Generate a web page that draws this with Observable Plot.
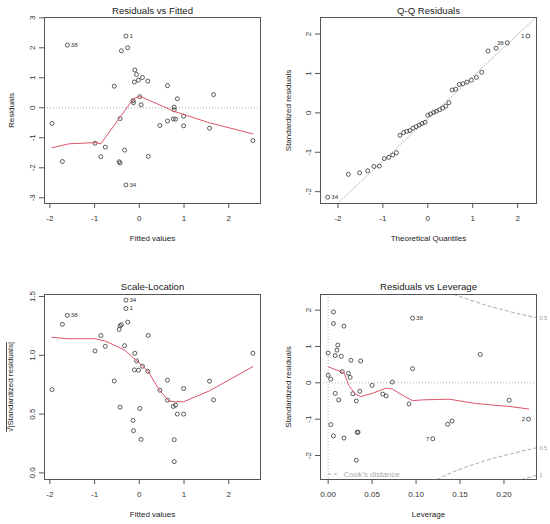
<!DOCTYPE html>
<html><head><meta charset="utf-8">
<script src="https://cdn.jsdelivr.net/npm/d3@7"></script>
<script src="https://cdn.jsdelivr.net/npm/@observablehq/plot@0.6"></script>
<style>
body{margin:0;background:#fff}
#grid{position:relative;width:550px;height:524px;background:#fff}
.cell{position:absolute}
</style>
</head><body><div id="grid"></div>
<script>
// ---------- data ----------
const fitted = [-1.95,-1.72,-1.61,-0.99,-0.86,-0.76,-0.56,-0.43,-0.45,-0.43,-0.40,-0.33,-0.30,-0.30,-0.26,-0.14,-0.13,-0.11,-0.10,-0.06,-0.02,0.01,0.04,0.07,0.19,0.20,0.46,0.63,0.63,0.76,0.78,0.78,0.81,0.85,0.99,0.99,1.57,1.66,2.54];
const residuals = [-0.52,-1.79,2.09,-1.18,-1.63,-1.31,0.72,-0.36,-1.80,-1.84,1.90,-1.41,2.39,-2.57,2.00,0.24,0.17,0.86,1.26,1.11,0.92,0.37,0.10,1.01,0.89,-1.62,-0.59,0.74,-0.44,-0.37,0.02,-0.07,-0.38,0.30,-0.28,-0.60,-0.68,0.44,-1.09];
const sqrtStdRes = [0.709,1.263,1.339,1.037,1.169,1.076,0.782,0.559,1.22,1.25,1.26,1.082,1.398,1.469,1.282,0.446,0.359,0.876,1.017,0.952,0.873,0.548,0.285,0.907,0.864,1.169,0.703,0.788,0.619,0.565,0.096,0.282,0.576,0.50,0.50,0.718,0.78,0.621,1.017];
const fitLabelIdx = [2, 12, 13];
const fitLabels = ["38", "1", "34"];

const rvfSmoothX = [-1.95,-1.57,-0.99,-0.86,-0.14,0.01,0.78,1.57,2.54];
const rvfSmoothY = [-1.33,-1.20,-1.16,-1.20,0.29,0.39,-0.12,-0.50,-0.87];

const slSmoothX = [-1.95,-1.61,-0.99,-0.76,-0.33,0.03,0.19,0.45,0.66,0.78,0.99,1.57,2.54];
const slSmoothY = [1.153,1.141,1.141,1.121,1.045,0.924,0.867,0.703,0.613,0.605,0.605,0.698,0.904];

const qqTheory = [-2.23,-1.77,-1.52,-1.34,-1.20,-1.08,-0.97,-0.87,-0.78,-0.70,-0.62,-0.54,-0.47,-0.40,-0.33,-0.26,-0.19,-0.13,-0.06,0,0.06,0.13,0.19,0.26,0.33,0.40,0.47,0.54,0.62,0.70,0.78,0.87,0.97,1.08,1.20,1.34,1.52,1.77,2.23];
const qqStd = [-2.14,-1.56,-1.52,-1.47,-1.36,-1.35,-1.16,-1.13,-1.07,-1.01,-0.57,-0.50,-0.47,-0.45,-0.39,-0.35,-0.31,-0.27,-0.24,-0.06,-0.03,0.01,0.04,0.08,0.12,0.17,0.26,0.58,0.60,0.72,0.74,0.78,0.83,0.90,1.03,1.57,1.64,1.78,1.95];
const qqLabelIdx = [0, 37, 38];
const qqLabels = ["34", "38", "1"];
const qqLineX = [-2.6, 2.6];
const qqLineY = [-2.93, 2.63];

const leverage = [0.000,0.000,0.003,0.003,0.006,0.006,0.006,0.008,0.008,0.010,0.011,0.012,0.015,0.016,0.018,0.018,0.023,0.025,0.026,0.028,0.032,0.032,0.033,0.034,0.036,0.037,0.050,0.062,0.066,0.073,0.092,0.096,0.096,0.119,0.136,0.141,0.173,0.206,0.228];
const levStdRes = [0.82,0.21,0.10,-1.15,1.95,1.63,-1.46,0.75,-0.29,0.90,1.04,-0.47,0.73,0.31,1.56,-1.52,0.26,0.15,0.62,-0.30,-0.50,-2.13,-1.36,-1.36,-0.23,0.60,-0.07,-0.31,-0.36,0.02,-0.58,0.39,1.78,-1.54,-1.14,-1.05,0.78,-0.48,-1.00];
const levLabelIdx = [32, 33, 38];
const levLabels = ["38", "7", "2"];
const levSmoothX = [0,0.0076,0.0179,0.0236,0.0312,0.0369,0.0502,0.0654,0.073,0.0844,0.0958,0.1072,0.1376,0.168,0.206,0.228];
const levSmoothY = [0.44,0.37,0.28,-0.08,-0.31,-0.38,-0.29,-0.15,-0.17,-0.34,-0.49,-0.47,-0.45,-0.57,-0.65,-0.72];
const cookHalfUpX = [0.143,0.16,0.18,0.20,0.22,0.237];
const cookHalfUpY = [2.43,2.29,2.13,2.00,1.88,1.79];
const cookHalfLoX = [0.124,0.14,0.16,0.18,0.20,0.22,0.237];
const cookHalfLoY = [-2.66,-2.47,-2.29,-2.13,-2.00,-1.88,-1.79];
const cookOneLoX = [0.22,0.23,0.237];
const cookOneLoY = [-2.66,-2.59,-2.54];

// ---------- style ----------
const FONT = "'Liberation Sans', Arial, sans-serif";
const INK = "#333";
const RED = "#DF536B";
const GREY = "#b0b0b0";
const fmtInt = d => String(d);

const zip = (xs, ys) => xs.map((x, i) => ({x, y: ys[i]}));

function panel(o) {
  const marks = [
    ...(o.under || []),
    Plot.dot(o.points, {x: "x", y: "y", r: 2, stroke: INK, strokeWidth: 0.8, fill: "none"}),
    ...(o.over || []),
    Plot.frame({stroke: "#555", strokeWidth: 1}),
    Plot.axisX({ticks: o.xt, tickFormat: o.xf, tickSize: 5, tickPadding: 7, label: null, fontSize: 8, stroke: "#555"}),
    Plot.axisY({ticks: o.yt, tickFormat: () => "", tickSize: 5, label: null, stroke: "#555"}),
    Plot.text(o.yt, {y: d => d, text: d => o.yf(d), frameAnchor: "left", rotate: -90, textAnchor: "middle", lineAnchor: "middle", dx: -12, fontSize: 8, fill: INK}),
    Plot.text([o.title], {text: d => d, frameAnchor: "top", lineAnchor: "middle", dy: o.titleDy, fontSize: 9.6, fill: "#222"}),
    Plot.text([o.xlabel], {text: d => d, frameAnchor: "bottom", lineAnchor: "middle", dy: 35, fontSize: 8, fill: "#222"}),
    Plot.text([o.ylabel], {text: d => d, frameAnchor: "left", lineAnchor: "middle", textAnchor: "middle", rotate: -90, dx: o.ylabDx, fontSize: 8, fill: "#222", className: "ylab"})
  ];
  return Plot.plot({
    width: 275, height: 262,
    marginLeft: o.ml, marginRight: o.mr, marginTop: o.mt, marginBottom: o.mb,
    style: {fontFamily: FONT, fontSize: "8px", color: INK, background: "white", overflow: "visible"},
    x: {domain: o.xd, label: null},
    y: {domain: o.yd, label: null},
    marks
  });
}

function place(svg, left, top) {
  const d = document.createElement("div");
  d.className = "cell";
  d.style.left = left + "px";
  d.style.top = top + "px";
  d.appendChild(svg);
  document.getElementById("grid").appendChild(d);
  return svg;
}

const dotted = {stroke: GREY, strokeDasharray: "1,2", strokeWidth: 1};
const labelText = (xs, ys, idx, labels, side) =>
  Plot.text(idx.map((i, k) => ({x: xs[i], y: ys[i], t: labels[k]})),
    {x: "x", y: "y", text: "t", fontSize: 6.2, fill: INK,
     textAnchor: side === "left" ? "end" : "start", dx: side === "left" ? -3.5 : 3.5});

// Panel 1: Residuals vs Fitted
place(panel({
  points: zip(fitted, residuals),
  ml: 44, mr: 15, mt: 17, mb: 59,
  xd: [-2.12, 2.71], yd: [-3.19, 3.01],
  xt: [-2, -1, 0, 1, 2], yt: [-3, -2, -1, 0, 1, 2, 3], xf: fmtInt, yf: fmtInt,
  title: "Residuals vs Fitted", titleDy: -7,
  xlabel: "Fitted values", ylabel: "Residuals", ylabDx: -33,
  under: [Plot.ruleY([0], dotted)],
  over: [
    Plot.line(zip(rvfSmoothX, rvfSmoothY), {x: "x", y: "y", stroke: RED, strokeWidth: 1}),
    labelText(fitted, residuals, fitLabelIdx, fitLabels, "right")
  ]
}), 0, 0);

// Panel 2: Q-Q Residuals
place(panel({
  points: zip(qqTheory, qqStd),
  ml: 45, mr: 14, mt: 17, mb: 59,
  xd: [-2.39, 2.42], yd: [-2.30, 2.42],
  xt: [-2, -1, 0, 1, 2], yt: [-2, -1, 0, 1, 2], xf: fmtInt, yf: fmtInt,
  title: "Q-Q Residuals", titleDy: -7,
  xlabel: "Theoretical Quantiles", ylabel: "Standardized residuals", ylabDx: -32,
  under: [Plot.line(zip(qqLineX, qqLineY), {x: "x", y: "y", ...dotted, clip: true})],
  over: [
    labelText(qqTheory, qqStd, [qqLabelIdx[0]], [qqLabels[0]], "right"),
    labelText(qqTheory, qqStd, qqLabelIdx.slice(1), qqLabels.slice(1), "left")
  ]
}), 275, 0);

// Panel 3: Scale-Location
const s3 = place(panel({
  points: zip(fitted, sqrtStdRes),
  ml: 44, mr: 15, mt: 32, mb: 45,
  xd: [-2.12, 2.71], yd: [-0.056, 1.517],
  xt: [-2, -1, 0, 1, 2], yt: [0, 0.5, 1, 1.5], xf: fmtInt, yf: d3.format(".1f"),
  title: "Scale-Location", titleDy: -8,
  xlabel: "Fitted values", ylabel: "\u221A|Standardized residuals|", ylabDx: -34,
  over: [
    Plot.line(zip(slSmoothX, slSmoothY), {x: "x", y: "y", stroke: RED, strokeWidth: 1}),
    labelText(fitted, sqrtStdRes, fitLabelIdx, fitLabels, "right")
  ]
}), 0, 262);
d3.select(s3).selectAll("g.ylab text").style("text-decoration", "overline");

// Panel 4: Residuals vs Leverage
const cookDash = {stroke: "#aaa", strokeDasharray: "3,3", strokeWidth: 1, clip: true};
const cookEnds = [
  {x: cookHalfUpX.at(-1), y: cookHalfUpY.at(-1), t: "0.5"},
  {x: cookHalfLoX.at(-1), y: cookHalfLoY.at(-1), t: "0.5"},
  {x: cookOneLoX.at(-1), y: cookOneLoY.at(-1), t: "1"}
];
const s4 = place(panel({
  points: zip(leverage, levStdRes),
  ml: 45, mr: 14, mt: 32, mb: 45,
  xd: [-0.0087, 0.237], yd: [-2.66, 2.43],
  xt: [0, 0.05, 0.10, 0.15, 0.20], yt: [-2, -1, 0, 1, 2], xf: d3.format(".2f"), yf: fmtInt,
  title: "Residuals vs Leverage", titleDy: -8,
  xlabel: "Leverage", ylabel: "Standardized residuals", ylabDx: -32,
  under: [Plot.ruleY([0], dotted), Plot.ruleX([0], dotted)],
  over: [
    Plot.line(zip(cookHalfUpX, cookHalfUpY), {x: "x", y: "y", ...cookDash}),
    Plot.line(zip(cookHalfLoX, cookHalfLoY), {x: "x", y: "y", ...cookDash}),
    Plot.line(zip(cookOneLoX, cookOneLoY), {x: "x", y: "y", ...cookDash}),
    Plot.text(cookEnds, {x: "x", y: "y", text: "t", dx: 3, textAnchor: "start", fontSize: 5.5, fill: "#999"}),
    Plot.line(zip(levSmoothX, levSmoothY), {x: "x", y: "y", stroke: RED, strokeWidth: 1}),
    labelText(leverage, levStdRes, [levLabelIdx[0]], [levLabels[0]], "right"),
    labelText(leverage, levStdRes, levLabelIdx.slice(1), levLabels.slice(1), "left"),
    Plot.text(["Cook's distance"], {text: d => d, frameAnchor: "bottom-left", textAnchor: "start", lineAnchor: "middle", dx: 23, dy: -5, fontSize: 8, fill: "#aaa"})
  ]
}), 275, 262);
// legend key: dashed sample line next to "Cook's distance"
d3.select(s4).append("line")
  .attr("x1", 45 + 8).attr("x2", 45 + 20)
  .attr("y1", 262 - 45 - 5).attr("y2", 262 - 45 - 5)
  .attr("stroke", "#aaa").attr("stroke-dasharray", "3,3");
</script></body></html>
